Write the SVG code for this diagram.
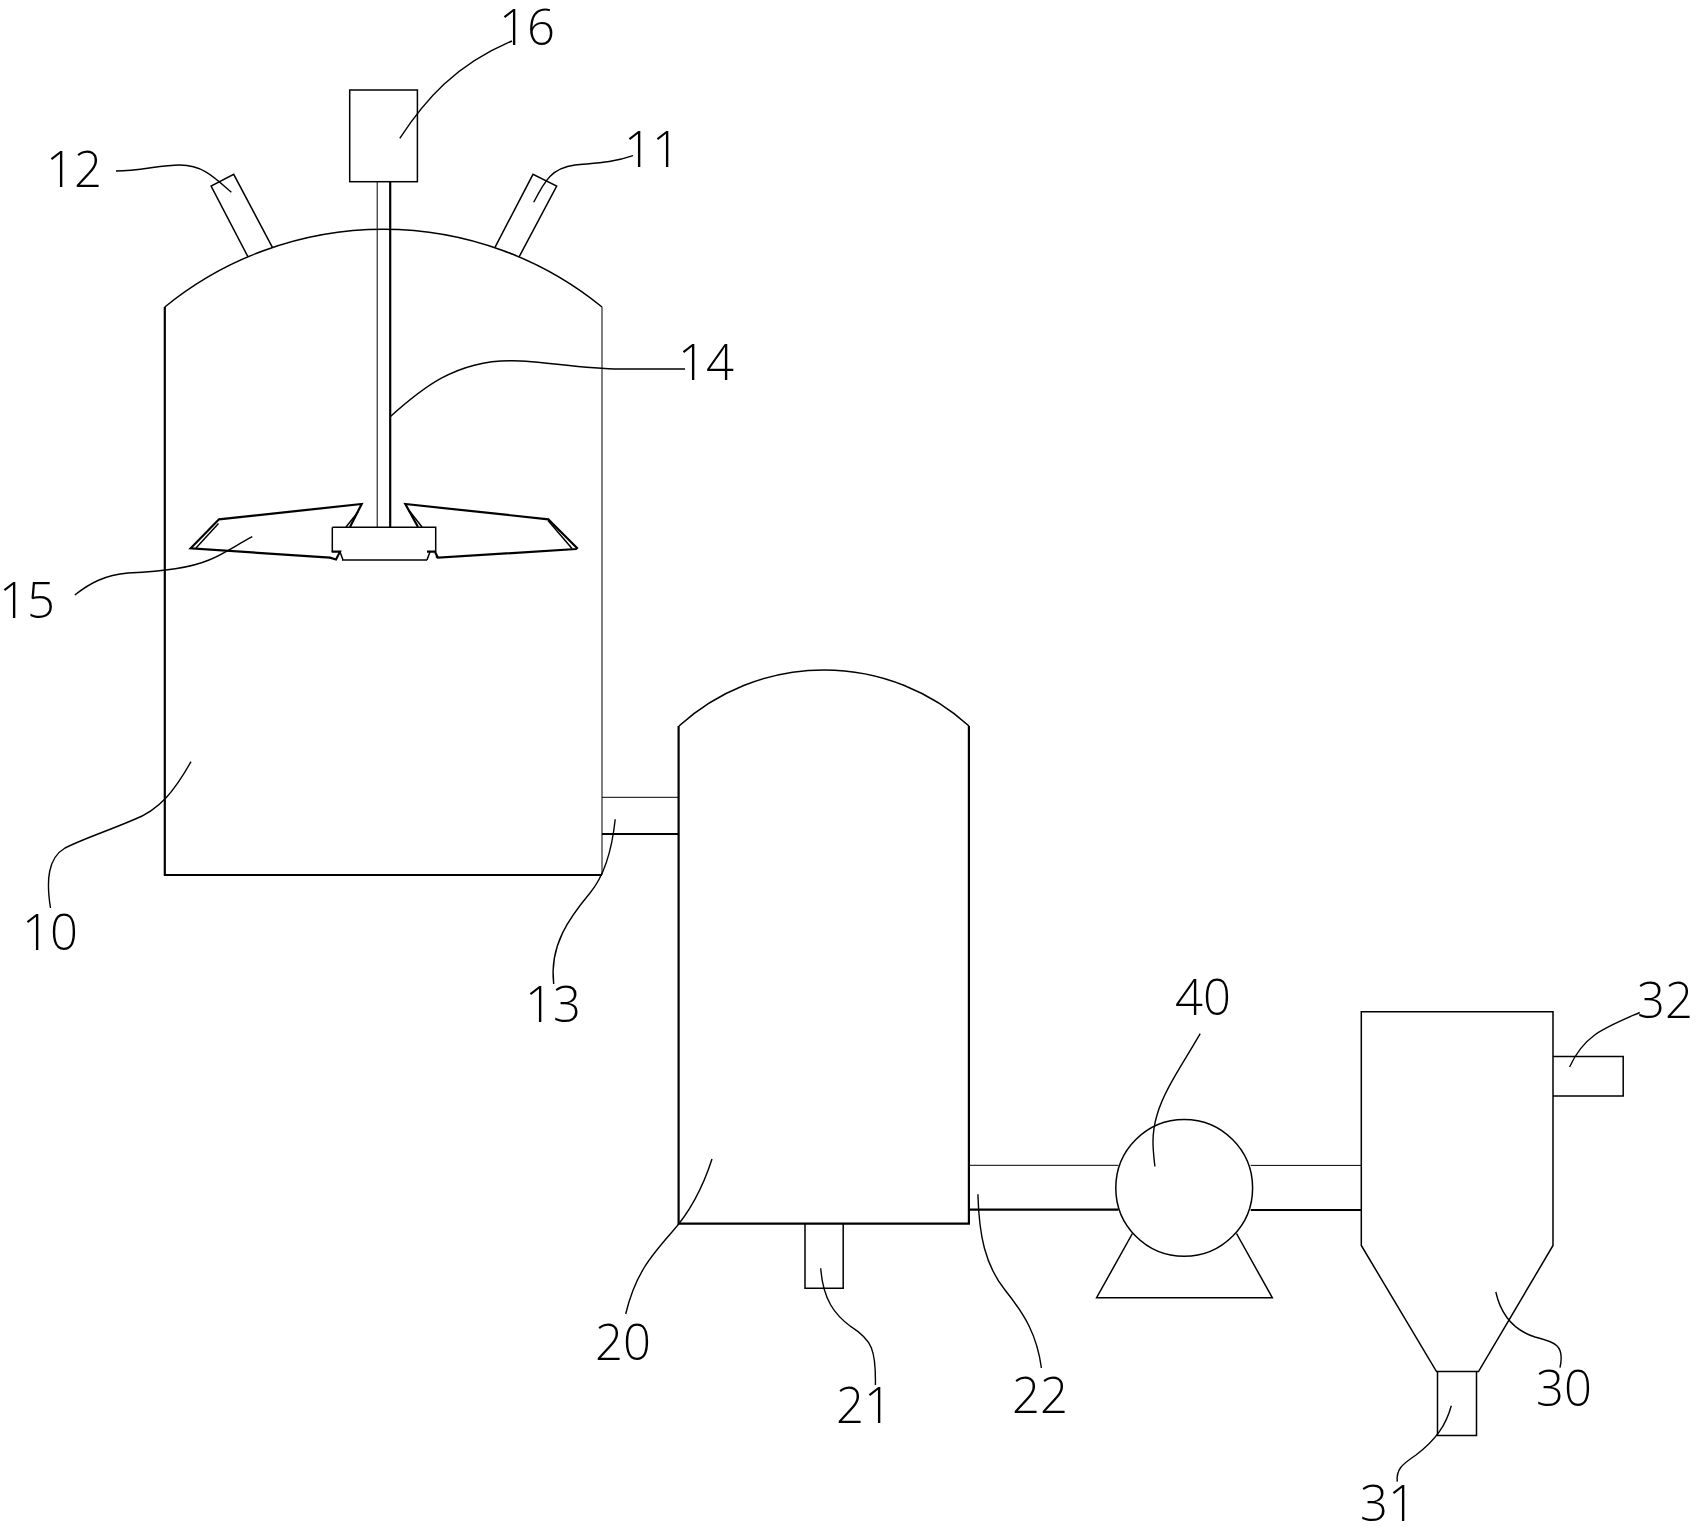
<svg xmlns="http://www.w3.org/2000/svg" width="1698" height="1528" viewBox="0 0 1698 1528">
<style>
.s{fill:none;stroke:#000;stroke-width:1.5;stroke-linejoin:miter}
.k{fill:none;stroke:#000;stroke-width:2.2}
.t{fill:none;stroke:#000;stroke-width:1}
.l{fill:none;stroke:#000;stroke-width:1.4}
text{font-family:"Open Sans","Liberation Sans",sans-serif;font-weight:300;font-size:49px;fill:#000;text-anchor:middle}
</style>
<rect width="1698" height="1528" fill="#fff"/>
<g id="vessel10">
<path class="s" d="M164.8 307A346 346 0 0 1 602 307"/>
<path class="t" d="M602 307V875"/>
<path class="k" d="M602 875H164.8V307"/>
</g>
<g id="nozzle12"><path class="s" d="M247.9 256.7L211.1 186L233.7 174.3L272.4 247.3"/></g>
<g id="nozzle11"><path class="s" d="M495 247.3L533 174.3L556.7 186L519.2 256.7"/></g>
<g id="motor16"><rect class="s" x="349.7" y="90" width="67.7" height="91.7"/></g>
<g id="shaft"><path class="t" d="M377.2 181.7V527"/><path class="k" d="M390.2 181.7V527"/></g>
<g id="impeller15">
<path class="s" d="M332.3 527.3H435.7V552"/>
<path class="s" d="M332.3 527.3V552"/>
<path class="s" d="M342 560H427"/>
<path class="k" d="M331.7 551.7H340L336 559.5L330 557.7L190.7 548.3L219 519.3L361.7 504L350 527"/>
<path class="s" d="M196 548L218.5 523.5"/>
<path class="s" d="M358 512L346 527"/>
<path class="k" d="M427 551.7H435L438 558L437.7 557.7L576 549L577 548L548.3 519.3L405.3 504L418 527"/>
<path class="s" d="M572 548.5L548 520.5"/>
<path class="s" d="M408.7 510L422 527"/>
<path class="s" d="M340 551.7L343 560M427 560L430 551.7"/>
</g>
<g id="pipe13"><path class="t" d="M602 797.3H679"/><path class="k" d="M602 834H679"/></g>
<g id="vessel20">
<path class="s" d="M679 726A215.7 215.7 0 0 1 969 726"/>
<path class="k" d="M678.6 726V1223.7H968.9V726"/>
</g>
<g id="nozzle21"><path class="s" d="M805 1223.7V1288.3H843.2V1223.7"/></g>
<g id="pipe22"><path class="t" d="M968.9 1165.3H1118.5"/><path class="k" d="M968.9 1209.7H1118.5"/></g>
<g id="pump40">
<path class="s" d="M1132.4 1233.5L1096.6 1297.7H1272.3L1236.5 1233.5"/>
<circle class="s" cx="1184.2" cy="1187.9" r="68.4"/>
</g>
<g id="pipe40"><path class="t" d="M1250.7 1165.4H1361.3"/><path class="k" d="M1250.7 1210H1361.3"/></g>
<g id="hopper30"><path class="s" d="M1361.3 1245.5V1011.8H1553V1245.5L1478.5 1371.6H1436.5L1361.3 1245.5Z"/></g>
<g id="outlet31"><path class="s" d="M1437.5 1371.6V1435.4H1476.5V1371.6"/></g>
<g id="outlet32"><path class="s" d="M1553 1056.4H1623.2V1095.9H1553"/></g>
<g id="leaders">
<path class="l" d="M399.8 138.3C425 100 455 65 512 41"/>
<path class="l" d="M533.7 202.3C545 180 552 168 575 165C595 163 612 163 633 155.7"/>
<path class="l" d="M231.4 192.3C215 178 203 165 180 165C160 165 140 171 116 171"/>
<path class="l" d="M390.2 416.7C420 390 455 360 512 360.7C545 361 580 369 620 369L685 369"/>
<path class="l" d="M252.3 536.7C235 546 222 555 209 560C190 568 165 571 128 573C105 575 90 583 74.8 595"/>
<path class="l" d="M191 761.7C175 790 160 810 133 820C105 832 85 838 65 848C48 858 46 880 50.5 908"/>
<path class="l" d="M615.2 819.3C612 850 605 875 590 893C570 917 549 945 553.7 984"/>
<path class="l" d="M712 1159C702 1190 690 1212 672 1232C650 1257 635 1275 625.7 1314"/>
<path class="l" d="M820.7 1268.3C823 1300 835 1315 851 1326.7C872 1340 876 1350 875.4 1385"/>
<path class="l" d="M977.9 1194.3C979 1235 985 1265 1005 1290C1025 1315 1037 1335 1041.4 1368"/>
<path class="l" d="M1200.2 1033.6C1184 1062 1164 1090 1157 1115C1151 1135 1153 1150 1154.9 1166.5"/>
<path class="l" d="M1569.6 1067C1584 1035 1604 1028 1639.7 1012.5"/>
<path class="l" d="M1495.8 1292C1501 1315 1513 1330 1535 1337C1555 1342 1565 1345 1560 1367.6"/>
<path class="l" d="M1451.3 1405.7C1446 1425 1436 1440 1416 1455C1401 1465 1396 1470 1397.3 1481.7"/>
</g>
<g id="labels">
<text x="527" y="45">16</text>
<text x="652" y="167">11</text>
<text x="706" y="380">14</text>
<text x="74" y="187">12</text>
<text x="27" y="618">15</text>
<text x="50" y="950">10</text>
<text x="553" y="1022">13</text>
<text x="623" y="1360">20</text>
<text x="864" y="1423">21</text>
<text x="1040" y="1413">22</text>
<text x="1203" y="1015">40</text>
<text x="1665" y="1018">32</text>
<text x="1564" y="1406">30</text>
<text x="1388" y="1521">31</text>
</g>
</svg>
